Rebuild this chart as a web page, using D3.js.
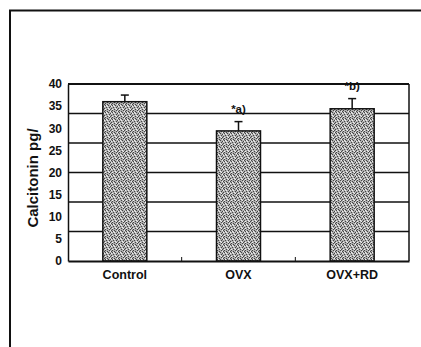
<!DOCTYPE html>
<html><head><meta charset="utf-8">
<script src="https://cdn.jsdelivr.net/npm/d3@7"></script>
<style>body{margin:0;background:#fff}svg{display:block}text{font-family:"Liberation Sans",Arial,sans-serif;font-weight:bold;fill:#111}</style>
</head><body>
<script>
const categories = ["Control", "OVX", "OVX+RD"];
const values = [36.0, 29.4, 34.4];
const errors = [1.5, 2.1, 2.3];
const annotations = ["", "*a)", "*b)"];
const yTicks = [0, 5, 10, 15, 20, 25, 30, 35, 40];
const gridValues = [40/6, 80/6, 20, 160/6, 200/6];

const W = 421, H = 347;
const svg = d3.select("body").append("svg").attr("width", W).attr("height", H);

// outer frame
svg.append("path").attr("d", "M10,347 V10.5 H421").attr("fill", "none").attr("stroke", "#111").attr("stroke-width", 2);

const m = {l: 68, r: 409, t: 84, b: 261};
const x = d3.scaleBand().domain(categories).range([m.l, m.r]).paddingInner(0.613).paddingOuter(0.3065);
const y = d3.scaleLinear().domain([0, 40]).range([m.b, m.t]);

// stipple texture pattern
const defs = svg.append("defs");
const pat = defs.append("pattern").attr("id", "stip").attr("patternUnits", "userSpaceOnUse").attr("width", 7).attr("height", 7);
pat.append("rect").attr("width", 7).attr("height", 7).attr("fill", "#b0b0b0");
[[0,0],[3,0],[5,1],[1,2],[4,2],[6,3],[2,4],[0,5],[4,5],[6,6],[2,6],[5,4]].forEach(([a,b]) =>
  pat.append("rect").attr("x", a).attr("y", b).attr("width", 1).attr("height", 1).attr("fill", "#444"));
[[1,0],[6,1],[3,3],[0,4],[5,6],[2,1],[4,4]].forEach(([a,b]) =>
  pat.append("rect").attr("x", a).attr("y", b).attr("width", 1).attr("height", 1).attr("fill", "#f0f0f0"));

// gridlines
svg.append("g").selectAll("line").data(gridValues).join("line")
  .attr("x1", m.l).attr("x2", m.r).attr("y1", d => y(d)).attr("y2", d => y(d))
  .attr("stroke", "#111").attr("stroke-width", 1.5);

// plot frame
svg.append("line").attr("x1", m.l).attr("x2", m.r).attr("y1", m.t).attr("y2", m.t).attr("stroke", "#111").attr("stroke-width", 2);
svg.append("line").attr("x1", m.r).attr("x2", m.r).attr("y1", m.t).attr("y2", m.b).attr("stroke", "#111").attr("stroke-width", 1.5);

// bars
svg.append("g").selectAll("rect").data(values).join("rect")
  .attr("x", (d, i) => x(categories[i])).attr("width", x.bandwidth())
  .attr("y", d => y(d)).attr("height", d => y(0) - y(d))
  .attr("fill", "url(#stip)").attr("stroke", "#111").attr("stroke-width", 1.5);

// error bars
const eg = svg.append("g").attr("stroke", "#111").attr("stroke-width", 1.5);
values.forEach((v, i) => {
  const cx = x(categories[i]) + x.bandwidth() / 2;
  eg.append("line").attr("x1", cx).attr("x2", cx).attr("y1", y(v)).attr("y2", y(v + errors[i]));
  eg.append("line").attr("x1", cx - 4).attr("x2", cx + 4).attr("y1", y(v + errors[i])).attr("y2", y(v + errors[i]));
});

// annotations
svg.append("g").selectAll("text").data(annotations).join("text")
  .attr("x", (d, i) => x(categories[i]) + x.bandwidth() / 2)
  .attr("y", (d, i) => y(values[i] + errors[i]) - 9)
  .attr("text-anchor", "middle").attr("font-size", 11.5).text(d => d);

// y axis
const yAxis = d3.axisLeft(y).tickValues(yTicks).tickSize(0).tickPadding(6);
const gy = svg.append("g").attr("transform", `translate(${m.l},0)`).call(yAxis);
gy.select(".domain").attr("stroke", "#111").attr("stroke-width", 1.5);
gy.selectAll("text").attr("font-size", 12).attr("font-family", null).attr("font-weight", "bold");

// x axis
const xAxis = d3.axisBottom(x).tickSize(0).tickPadding(9);
const gx = svg.append("g").attr("transform", `translate(0,${m.b})`).call(xAxis);
gx.select(".domain").attr("stroke", "#111").attr("stroke-width", 2);
gx.selectAll("text").attr("font-size", 12.5).attr("font-family", null);
// small category separator ticks
const seps = categories.slice(1).map(c => x(c) - x.step() * x.paddingInner() / 2);
svg.append("g").selectAll("line").data(seps).join("line")
  .attr("x1", d => d).attr("x2", d => d).attr("y1", m.b).attr("y2", m.b - 4)
  .attr("stroke", "#111").attr("stroke-width", 1);

// y label
svg.append("text").attr("transform", `translate(38,178) rotate(-90)`)
  .attr("text-anchor", "middle").attr("font-size", 15).text("Calcitonin pg/");
</script>
</body></html>
